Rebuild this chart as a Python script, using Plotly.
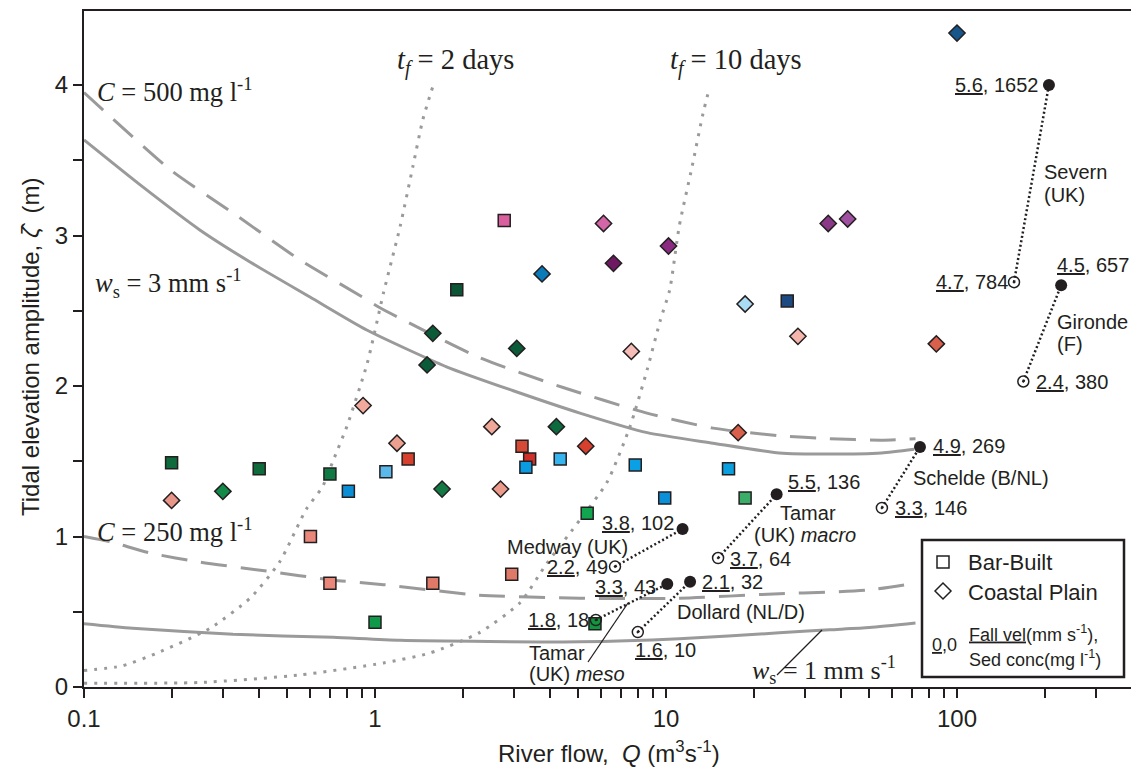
import numpy as np
import plotly.graph_objects as go

# ---------------- data ----------------
# Bar-built estuaries (squares)
bb_q = [0.2, 0.40, 0.70, 0.81, 1.09, 1.30, 0.60, 0.70, 1.0, 1.58, 1.91, 2.95, 2.78, 3.2, 3.4,
        3.3, 4.33, 5.36, 5.7, 7.84, 9.9, 16.4, 18.7, 26.1]
bb_amp = [1.49, 1.45, 1.415, 1.30, 1.43, 1.515, 1.00, 0.69, 0.43, 0.69, 2.64, 0.75, 3.10, 1.60, 1.515,
          1.46, 1.515, 1.155, 0.42, 1.475, 1.256, 1.45, 1.256, 2.565]
bb_color = ["#0d6b3c", "#0d6b3c", "#0f7a43", "#0a8fd6", "#5ab8ea", "#d8402e", "#e8877a", "#e8877a",
            "#0f9a4a", "#e07a68", "#0b5535", "#e07a68", "#d95f9e", "#d64a35", "#d0302a",
            "#0a9be0", "#36b4ee", "#12a550", "#12953f", "#0aa0e6", "#0a90d8", "#0aa0e0", "#3aad68", "#1d4a80"]

# Coastal-plain estuaries (diamonds)
cp_q = [0.2, 0.3, 0.91, 1.19, 1.58, 1.51, 3.07, 2.52, 4.2, 1.70, 2.7, 5.3, 3.75, 6.1, 6.6, 10.2,
        7.6, 17.7, 18.7, 28.4, 36.1, 42.1, 84.9, 100]
cp_amp = [1.24, 1.30, 1.87, 1.62, 2.35, 2.14, 2.25, 1.73, 1.73, 1.315, 1.315, 1.60, 2.745, 3.08, 2.815, 2.93,
          2.23, 1.69, 2.545, 2.33, 3.08, 3.11, 2.28, 4.345]
cp_color = ["#e8968a", "#148a48", "#f2aa9c", "#eda090", "#0b5a38", "#0b5a38", "#0b5a38", "#f0a898",
            "#0d6a3e", "#137a45", "#eb9a8c", "#d8402e", "#0a7ab8", "#d466a8", "#6e1a62", "#8a2a80",
            "#f5bcb8", "#d9604a", "#aadcf5", "#f5b5ad", "#8a3888", "#a050a0", "#d9604a", "#17568a"]

# Named estuaries: low (open) and high (filled) conditions
est_names = ["Severn", "Gironde", "Schelde", "Tamar macro", "Medway", "Tamar meso", "Dollard"]
est_q_lo = [157, 169, 55.2, 15.1, 6.68, 5.74, 8.0]
est_amp_lo = [2.69, 2.03, 1.19, 0.857, 0.80, 0.445, 0.365]
est_q_hi = [207, 228, 74.6, 24.0, 11.4, 10.1, 12.1]
est_amp_hi = [4.0, 2.67, 1.595, 1.28, 1.05, 0.685, 0.70]
est_ws_lo = ["4.7", "2.4", "3.3", "3.7", "2.2", "1.8", "1.6"]
est_c_lo = [784, 380, 146, 64, 49, 18, 10]
est_ws_hi = ["5.6", "4.5", "4.9", "5.5", "3.8", "3.3", "2.1"]
est_c_hi = [1652, 657, 269, 136, 102, 43, 32]

# Model curves
c500_q = [0.1, 0.12, 0.2, 0.325, 0.55, 0.89, 1.04, 2.28, 4.43, 8.6, 14.5, 24.5, 36.5, 55, 72]
c500_amp = [3.95, 3.81, 3.43, 3.15, 2.84, 2.60, 2.52, 2.19, 1.99, 1.82, 1.72, 1.67, 1.65, 1.64, 1.65]
ws3_q = [0.1, 0.156, 0.25, 0.372, 0.598, 0.937, 1.77, 2.97, 5.06, 8.62, 14.5, 24.5, 36.4, 55, 71.2]
ws3_amp = [3.635, 3.336, 3.037, 2.824, 2.591, 2.372, 2.126, 1.97, 1.82, 1.69, 1.62, 1.555, 1.548, 1.555, 1.58]
c250_q = [0.1, 0.123, 0.169, 0.25, 0.425, 0.718, 1.07, 2.28, 5.06, 11.1, 24.5, 36.5, 50, 72]
c250_amp = [1.0, 0.965, 0.89, 0.83, 0.77, 0.71, 0.68, 0.61, 0.59, 0.59, 0.62, 0.63, 0.645, 0.69]
ws1_q = [0.1, 0.147, 0.325, 0.718, 1.22, 5.06, 11.1, 24.5, 36.5, 50, 72]
ws1_amp = [0.42, 0.39, 0.35, 0.33, 0.31, 0.30, 0.32, 0.36, 0.38, 0.395, 0.425]
tf2_q = [0.1, 0.135, 0.178, 0.271, 0.372, 0.47, 0.58, 0.66, 0.72, 0.80, 0.94, 1.07, 1.22, 1.35, 1.46, 1.58]
tf2_amp = [0.11, 0.14, 0.225, 0.39, 0.59, 0.83, 1.18, 1.33, 1.51, 1.73, 2.15, 2.62, 3.06, 3.46, 3.77, 3.99]
tf10_q = [0.1, 0.25, 0.553, 1.07, 1.54, 2.28, 3.15, 3.89, 5.06, 6.27, 7.52, 8.62, 9.57, 10.3, 11.1, 12.3, 13.4, 14.1]
tf10_amp = [0.025, 0.03, 0.08, 0.16, 0.225, 0.36, 0.56, 0.82, 1.11, 1.36, 1.73, 2.11, 2.44, 2.64, 3.06, 3.46, 3.81, 3.98]

x_major_vals = [0.1, 1, 10, 100]
x_major_labels = ["0.1", "1", "10", "100"]
x_minor_vals = [m * 10.0 ** e for e in range(-1, 3) for m in range(2, 10)]
y_major_vals = [0, 1, 2, 3, 4]
y_minor_vals = [0.5, 1.5, 2.5, 3.5]

# ---------------- styling ----------------
SANS = "Arial, 'Liberation Sans', sans-serif"
SERIF = "'Times New Roman', 'Liberation Serif', serif"
INK = "#231f20"
GREY = "#9a9a9a"

L, R, T, B = 84, 1131, 11, 687


def px(x):
    return (x - L) / (R - L)


def py(y):
    return (B - y) / (B - T)


fig = go.Figure()

# model curves
for q, a, dash in [(c500_q, c500_amp, "26px,14px"), (c250_q, c250_amp, "26px,14px"),
                   (ws3_q, ws3_amp, "solid"), (ws1_q, ws1_amp, "solid"),
                   (tf2_q, tf2_amp, "3px,7px"), (tf10_q, tf10_amp, "3px,7px")]:
    fig.add_trace(go.Scatter(x=q, y=a, mode="lines", line=dict(color=GREY, width=3, dash=dash,
                                                                  shape="spline", smoothing=0.6),
                             showlegend=False, hoverinfo="skip"))

# data markers
fig.add_trace(go.Scatter(x=bb_q, y=bb_amp, mode="markers", showlegend=False,
                         marker=dict(symbol="square", size=12, color=bb_color,
                                     line=dict(color=INK, width=1.5))))
fig.add_trace(go.Scatter(x=cp_q, y=cp_amp, mode="markers", showlegend=False,
                         marker=dict(symbol="diamond", size=12.5, color=cp_color,
                                     line=dict(color=INK, width=1.5))))

# estuary connecting lines
for i in range(len(est_names)):
    fig.add_trace(go.Scatter(x=[est_q_lo[i], est_q_hi[i]], y=[est_amp_lo[i], est_amp_hi[i]],
                             mode="lines", line=dict(color=INK, width=2.5, dash="2px,2.5px"),
                             showlegend=False, hoverinfo="skip"))
fig.add_trace(go.Scatter(x=est_q_lo, y=est_amp_lo, mode="markers", showlegend=False,
                         marker=dict(symbol="circle-open-dot", size=11, color=INK,
                                     line=dict(color=INK, width=1.5))))
fig.add_trace(go.Scatter(x=est_q_hi, y=est_amp_hi, mode="markers", showlegend=False,
                         marker=dict(symbol="circle", size=12, color=INK)))

annots = []


def txt(x, y, s, size=20, anchor="left", family=SANS):
    annots.append(dict(x=px(x), y=py(y), xref="paper", yref="paper", text=s, showarrow=False,
                       xanchor=anchor, yanchor="middle", font=dict(family=family, size=size, color=INK)))


def lab(i, hi):
    if hi:
        return f"<u>{est_ws_hi[i]}</u>, {est_c_hi[i]}"
    return f"<u>{est_ws_lo[i]}</u>, {est_c_lo[i]}"


# Severn
txt(1040, 85, lab(0, True), anchor="right")
txt(1010, 282, lab(0, False), anchor="right")
txt(1042, 172, "Severn")
txt(1042, 195, "(UK)")
# Gironde
txt(1055, 265, lab(1, True))
txt(1034, 382, lab(1, False))
txt(1055, 322, "Gironde")
txt(1055, 344, "(F)")
# Schelde
txt(931, 446, lab(2, True))
txt(893, 508, lab(2, False))
txt(911, 478, "Schelde (B/NL)")
# Tamar macro
txt(786, 482, lab(3, True))
txt(728, 559, lab(3, False))
txt(778, 513, "Tamar")
txt(752, 535, "(UK) <i>macro</i>")
# Medway
txt(676, 523, lab(4, True), anchor="right")
txt(610, 567, lab(4, False), anchor="right")
txt(505, 547, "Medway (UK)")
# Tamar meso
txt(658, 587, lab(5, True), anchor="right")
txt(591, 620, lab(5, False), anchor="right")
txt(527, 653, "Tamar")
txt(527, 674, "(UK) <i>meso</i>")
# Dollard
txt(700, 582, lab(6, True))
txt(633, 650, lab(6, False))
txt(675, 612, "Dollard (NL/D)")

# curve labels (serif)
txt(95, 90, "<i>C</i> = 500 mg l<sup>-1</sup>", size=26.5, family=SERIF)
txt(93, 283, "<i>w</i><sub>s</sub> = 3 mm s<sup>-1</sup>", size=26.5, family=SERIF)
txt(95, 530, "<i>C</i> = 250 mg l<sup>-1</sup>", size=26.5, family=SERIF)
txt(395, 62, "<i>t<sub>f</sub></i> = 2 days", size=28.5, family=SERIF)
txt(668, 62, "<i>t<sub>f</sub></i> = 10 days", size=28.5, family=SERIF)
txt(750, 670, "<i>w</i><sub>s</sub> = 1 mm s<sup>-1</sup>", size=26, family=SERIF)

# legend texts
txt(966, 562, "Bar-Built", size=22)
txt(966, 592, "Coastal Plain", size=22)
txt(930, 645, "<u>0</u>,0", size=18)
txt(967, 633, "<u>Fall vel</u>(mm s<sup>-1</sup>),", size=18)
txt(967, 658, "Sed conc(mg l<sup>-1</sup>)", size=18)

# axis titles
annots.append(dict(x=px(609), y=py(752), xref="paper", yref="paper", showarrow=False,
                   text="River flow,  <i>Q</i> (m<sup>3</sup>s<sup>-1</sup>)", xanchor="center", yanchor="middle",
                   font=dict(family=SANS, size=24, color=INK)))
annots.append(dict(x=px(30), y=py(347), xref="paper", yref="paper", showarrow=False, textangle=-90,
                   text="Tidal elevation amplitude, <i>\u03b6\u0302</i>  (m)", xanchor="center", yanchor="middle",
                   font=dict(family=SANS, size=24, color=INK)))

shapes = []
# leader lines
shapes.append(dict(type="line", xref="paper", yref="paper", x0=px(588), y0=py(662), x1=px(628), y1=py(603),
                   line=dict(color=INK, width=1.3)))
shapes.append(dict(type="line", xref="paper", yref="paper", x0=px(777), y0=py(675), x1=px(822), y1=py(630),
                   line=dict(color=INK, width=1.3)))
# legend box
shapes.append(dict(type="rect", xref="paper", yref="paper", x0=px(922), x1=px(1124), y0=py(677), y1=py(540),
                   fillcolor="white", line=dict(color=INK, width=2.5), layer="above"))
shapes.append(dict(type="rect", xref="paper", yref="paper", x0=px(937), x1=px(949), y0=py(568), y1=py(556),
                   fillcolor="white", line=dict(color=INK, width=1.5), layer="above"))
cx, cy, r = 943, 591, 8
shapes.append(dict(type="path", xref="paper", yref="paper",
                   path=f"M {px(cx - r)},{py(cy)} L {px(cx)},{py(cy - r)} L {px(cx + r)},{py(cy)} L {px(cx)},{py(cy + r)} Z",
                   fillcolor="white", line=dict(color=INK, width=1.5), layer="above"))

fig.update_layout(
    width=1131, height=772,
    margin=dict(l=L, r=1131 - R, t=T, b=772 - B),
    paper_bgcolor="white", plot_bgcolor="white",
    showlegend=False,
    annotations=annots, shapes=shapes,
    xaxis=dict(type="log", range=[-1, -1 + (R - L) / 291.0],
               tickmode="array", tickvals=x_major_vals, ticktext=x_major_labels,
               ticks="outside", ticklen=9, tickwidth=1.5, tickcolor=INK,
               minor=dict(tickmode="array", tickvals=x_minor_vals, ticks="outside", ticklen=9,
                          tickwidth=1.5, tickcolor=INK, showgrid=False),
               showline=True, linewidth=2, linecolor=INK, mirror=True,
               showgrid=False, zeroline=False,
               tickfont=dict(family=SANS, size=24, color=INK)),
    yaxis=dict(range=[0, (B - T) / 150.5],
               tickmode="array", tickvals=y_major_vals, ticktext=[str(v) for v in y_major_vals],
               ticks="outside", ticklen=9, tickwidth=1.5, tickcolor=INK,
               minor=dict(tickmode="array", tickvals=y_minor_vals, ticks="outside", ticklen=9,
                          tickwidth=1.5, tickcolor=INK, showgrid=False),
               showline=True, linewidth=2, linecolor=INK,
               showgrid=False, zeroline=False,
               tickfont=dict(family=SANS, size=24, color=INK)),
)

fig.write_html("out.html")
